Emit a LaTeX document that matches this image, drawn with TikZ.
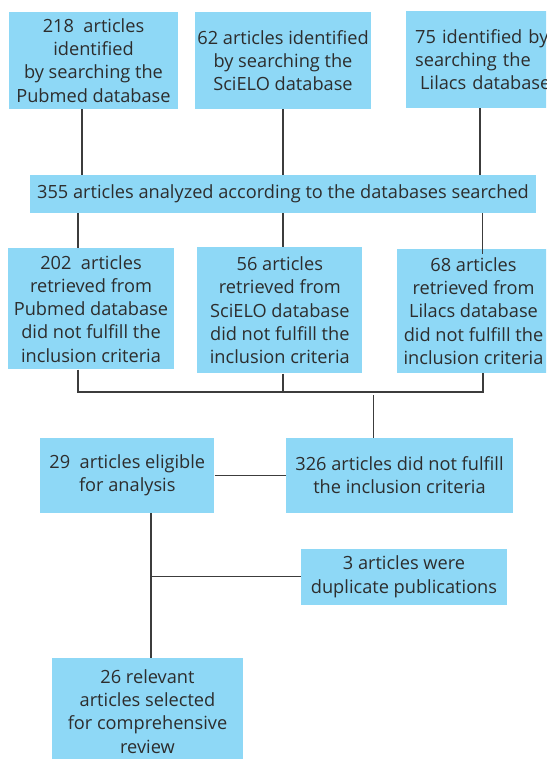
\documentclass[tikz,border=0pt]{standalone}
\usepackage{fontspec}
\setmainfont{Open Sans}
\definecolor{boxfill}{RGB}{142,216,246}
\definecolor{txt}{RGB}{45,45,45}
\definecolor{ln}{RGB}{60,60,60}
\begin{document}
\begin{tikzpicture}[x=1pt,y=-1pt,
  box/.style={fill=boxfill,text=txt,inner sep=0pt,align=center,
    font=\fontsize{18.2}{23.2}\selectfont},
  conn/.style={draw=ln,line width=1.3pt}]
\useasboundingbox (0,0) rectangle (546,759);
\clip (0,0) rectangle (546,759);
% top row
\node[box,minimum width=169,minimum height=97] (A) at (93.5,60.5)
  {218\ \ articles\\identified\\by searching the\\Pubmed database};
\node[box,minimum width=176,minimum height=97] (B) at (283,60.5)
  {62 articles identified\\by searching the\\SciELO database};
\node[box,anchor=north west,minimum height=97,text width=175,inner xsep=9pt,align=left] (C) at (406,11)
  {75 identified by\\searching the\\\hspace*{5pt}Lilacs database};
% analysed
\node[box,minimum width=506,minimum height=38] (D) at (283,194)
  {355 articles analyzed according to the databases searched};
% retrieved row
\node[box,minimum width=166,minimum height=121] (E) at (91,308.8)
  {202\ \ articles\\retrieved from\\Pubmed database\\did not fulfill the\\inclusion criteria};
\node[box,minimum width=165,minimum height=126] (F) at (279.8,310.3)
  {56 articles\\retrieved from\\SciELO database\\did not fulfill the\\inclusion criteria};
\node[box,minimum width=153,minimum height=124] (G) at (473.5,311)
  {68 articles\\retrieved from\\Lilacs database\\did not fulfill the\\inclusion criteria};
% eligible / not fulfilled
\node[box,minimum width=174,minimum height=75] (I) at (127.3,475.5)
  {29\ \ articles eligible\\for analysis};
\node[box,minimum width=227,minimum height=75] (H) at (399.5,475.5)
  {326 articles did not fulfill\\the inclusion criteria};
% duplicates
\node[box,minimum width=206,minimum height=56] (K) at (404,576.8)
  {3 articles were\\duplicate publications};
% final
\node[box,minimum width=191,minimum height=107] (J) at (147.5,711.5)
  {26 relevant\\articles selected\\for comprehensive\\review};
% connectors top
\draw[conn] (A.south -| 82,0) -- (D.north -| 82,0);
\draw[conn] (B.south -| 283,0) -- (D.north -| 283,0);
\draw[conn] (C.south -| 480,0) -- (D.north -| 480,0);
\draw[conn] (D.south -| 78,0) -- (E.north -| 78,0);
\draw[conn] (D.south -| 283,0) -- (F.north -| 283,0);
\coordinate (gin) at (482.5,254);
\draw[conn] (D.south -| gin) -- (gin);
% bracket
\coordinate (bl) at (78,392);
\coordinate (br) at (483,392);
\coordinate (bm) at (373.5,395);
\draw[conn] (E.south -| bl) -- (bl) -- (br) -- (G.south -| br);
\draw[conn] (F.south -| 283,0) -- (283,392);
\draw[conn] (bm) -- (H.north -| bm);
% eligible links
\draw[conn] (I.east) -- (H.west);
\coordinate (vx) at (151,0);
\draw[conn] (I.south -| vx) -- (J.north -| vx);
\draw[conn] (K.west) -- (K.west -| vx);
\end{tikzpicture}
\end{document}
